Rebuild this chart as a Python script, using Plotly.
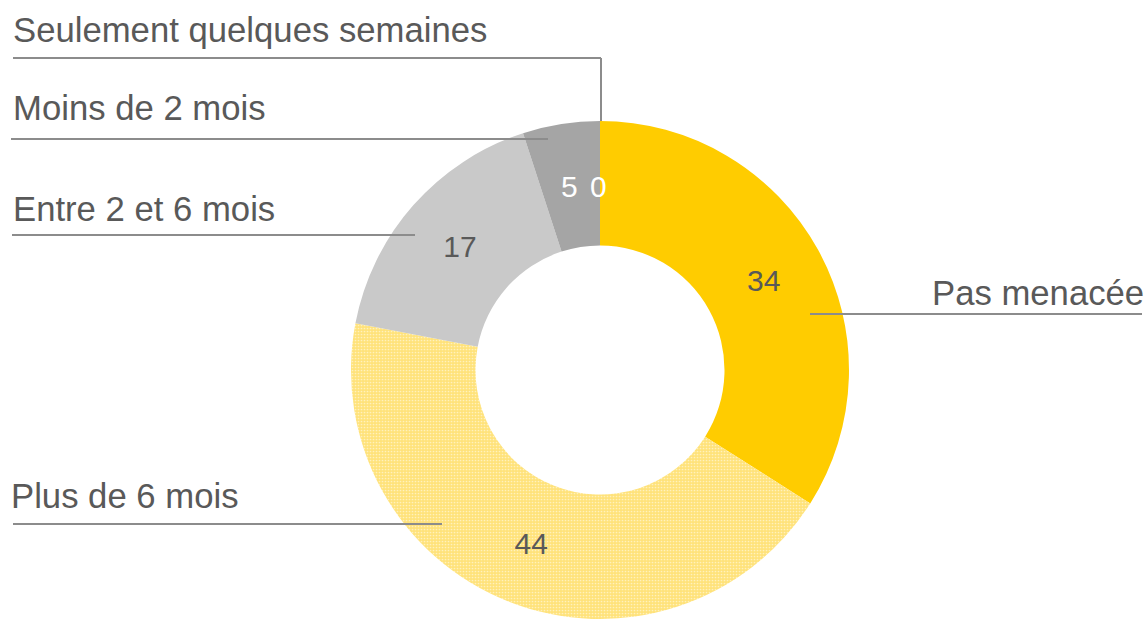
import plotly.graph_objects as go

categories = ["Pas menacée", "Plus de 6 mois", "Entre 2 et 6 mois", "Moins de 2 mois", "Seulement quelques semaines"]
values = [34, 44, 17, 5, 0]
slice_colors = ["#FFCC00", "#FFE27A", "#C9C9C9", "#A5A5A5", "#7F7F7F"]
text_colors = ["#595959", "#595959", "#595959", "#FFFFFF", "#FFFFFF"]

W, H = 1146, 619
cx, cy, R = 600, 370, 249
GRAY = "#595959"
LINE = "#8C8C8C"
FS_OUT = 34.7
FS_IN = 30

fig = go.Figure()
fig.add_trace(go.Pie(
    labels=categories, values=values, sort=False, direction="clockwise", rotation=0,
    hole=0.5,
    marker=dict(colors=slice_colors, line=dict(width=0),
                pattern=dict(shape=["", ".", "", "", ""], fgcolor="white", fillmode="overlay",
                             size=3, solidity=0.25)),
    texttemplate=["%{value}", "%{value}", "%{value}", "", ""],
    textposition="inside", insidetextorientation="horizontal",
    textfont=dict(family="Liberation Sans, Arial", size=FS_IN, color=text_colors),
    showlegend=False, hoverinfo="label+value",
    domain=dict(x=[(cx - R) / W, (cx + R) / W], y=[(H - cy - R) / H, (H - cy + R) / H]),
))

def px(x):
    return x / W

def py(y):
    return 1 - y / H

shapes = []
def seg(x0, y0, x1, y1):
    shapes.append(dict(type="line", xref="paper", yref="paper", x0=px(x0), y0=py(y0),
                       x1=px(x1), y1=py(y1), line=dict(color=LINE, width=2)))

# leader lines
seg(13, 58, 601, 58)
seg(601, 58, 601, 121)
seg(11, 139, 548, 139)
seg(12, 235, 415, 235)
seg(13, 524, 442, 524)
seg(810, 314, 1142, 314)

annotations = []
def lab(text, x, y, anchor="left", color=GRAY, size=FS_OUT):
    annotations.append(dict(text=text, xref="paper", yref="paper", x=px(x), y=py(y),
                            xanchor=anchor, yanchor="middle", showarrow=False,
                            font=dict(family="Liberation Sans, Arial", size=size, color=color)))

lab(categories[4], 11, 30)
lab(categories[3], 11, 108)
lab(categories[2], 11, 209)
lab(categories[1], 9, 496)
lab(categories[0], 1146, 293, anchor="right")
# values of the two thin slices (plotly would move / drop them)
lab(str(values[3]), 569, 186, anchor="center", color=text_colors[3], size=FS_IN)
lab(str(values[4]), 598, 186, anchor="center", color=text_colors[4], size=FS_IN)

fig.update_layout(
    width=W, height=H, margin=dict(l=0, r=0, t=0, b=0),
    paper_bgcolor="white", plot_bgcolor="white",
    shapes=shapes, annotations=annotations,
)
fig.write_html("out.html", config={"displayModeBar": False},
               post_script="document.body.style.margin='0';document.body.style.overflow='hidden';")
